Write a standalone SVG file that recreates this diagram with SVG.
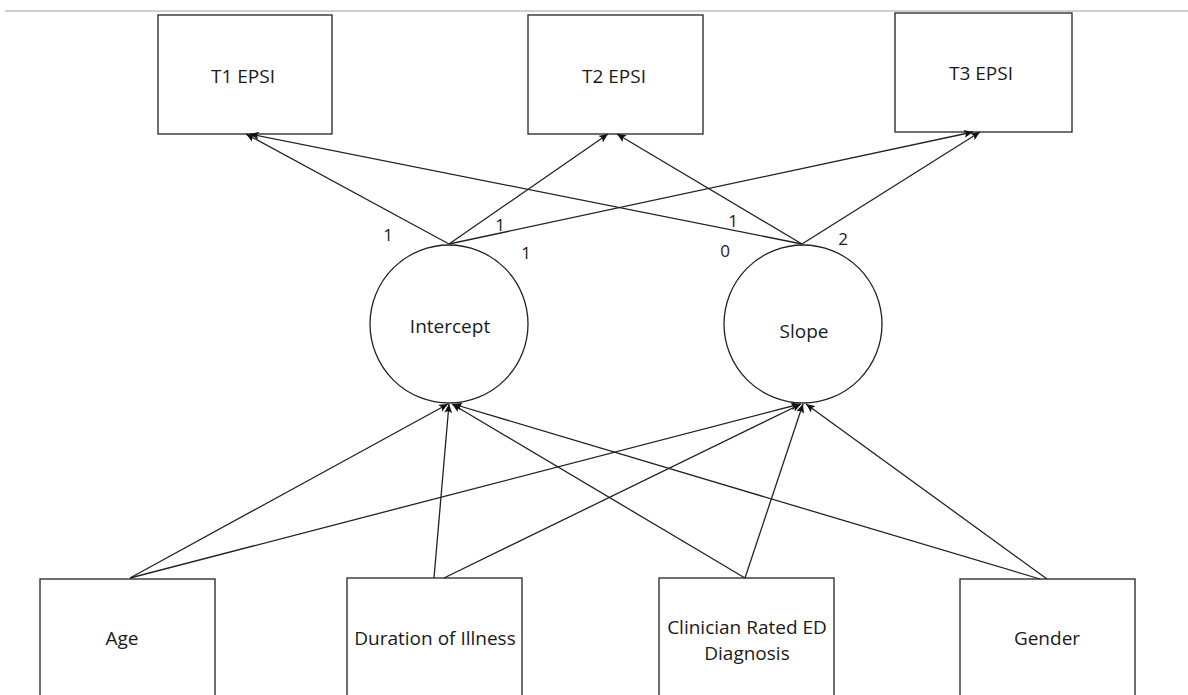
<svg xmlns="http://www.w3.org/2000/svg" width="1188" height="695" viewBox="0 0 1188 695">
<style>
.box{fill:#fff;stroke:#222;stroke-width:1.3}
.lat{fill:#fff;stroke:#222;stroke-width:1.3}
.t{font-family:"Open Sans","Liberation Sans",sans-serif;font-size:19px;fill:#1a1a1a;text-anchor:middle}
.n{font-family:"Open Sans","Liberation Sans",sans-serif;font-size:17px;fill:#1a1a1a;text-anchor:middle}
.c line{stroke:#222;stroke-width:1.3;marker-end:url(#ah)}
</style>
<defs>
<marker id="ah" markerUnits="userSpaceOnUse" markerWidth="10" markerHeight="8" refX="9" refY="4" orient="auto">
<path d="M0,0 L9,4 L0,8 L2,4 Z" fill="#111"/>
</marker>
</defs>
<rect width="1188" height="695" fill="#fff"/>
<line x1="5" y1="11" x2="1188" y2="11" stroke="#d0d0d0" stroke-width="2"/>
<g id="t1"><rect class="box" x="158" y="15" width="174" height="119"/><text class="t" x="243" y="83">T1 EPSI</text></g>
<g id="t2"><rect class="box" x="528" y="15" width="175" height="119"/><text class="t" x="614" y="83">T2 EPSI</text></g>
<g id="t3"><rect class="box" x="895" y="13" width="177" height="119"/><text class="t" x="981" y="80">T3 EPSI</text></g>
<g id="intercept"><circle class="lat" cx="449" cy="324" r="79"/><text class="t" x="450" y="333">Intercept</text></g>
<g id="slope"><circle class="lat" cx="803" cy="324" r="79"/><text class="t" x="804" y="338">Slope</text></g>
<g id="age"><rect class="box" x="40" y="579" width="175" height="130"/><text class="t" x="122" y="645">Age</text></g>
<g id="duration"><rect class="box" x="347" y="578" width="175" height="130"/><text class="t" x="435" y="645">Duration of Illness</text></g>
<g id="clinician"><rect class="box" x="659" y="578" width="175" height="130"/><text class="t" x="747" y="634">Clinician Rated ED</text><text class="t" x="747" y="660">Diagnosis</text></g>
<g id="gender"><rect class="box" x="960" y="579" width="175" height="130"/><text class="t" x="1047" y="645">Gender</text></g>
<g id="connectors" class="c">
<line x1="449" y1="244" x2="246" y2="134"/>
<line x1="449" y1="244" x2="608" y2="134"/>
<line x1="449" y1="244" x2="973" y2="132"/>
<line x1="802" y1="244" x2="250" y2="134"/>
<line x1="802" y1="244" x2="617" y2="134"/>
<line x1="802" y1="244" x2="980" y2="132"/>
<line x1="130" y1="578" x2="448" y2="404"/>
<line x1="130" y1="578" x2="800" y2="404"/>
<line x1="434" y1="578" x2="449" y2="404"/>
<line x1="444" y1="578" x2="801" y2="404"/>
<line x1="745" y1="578" x2="452" y2="404"/>
<line x1="745" y1="578" x2="803" y2="404"/>
<line x1="1040" y1="579" x2="453" y2="404"/>
<line x1="1047" y1="579" x2="806" y2="404"/>
</g>
<g id="labels">
<text class="n" x="388" y="241">1</text>
<text class="n" x="500" y="231">1</text>
<text class="n" x="526" y="259">1</text>
<text class="n" x="733" y="227">1</text>
<text class="n" x="725" y="257">0</text>
<text class="n" x="843" y="245">2</text>
</g>
</svg>
